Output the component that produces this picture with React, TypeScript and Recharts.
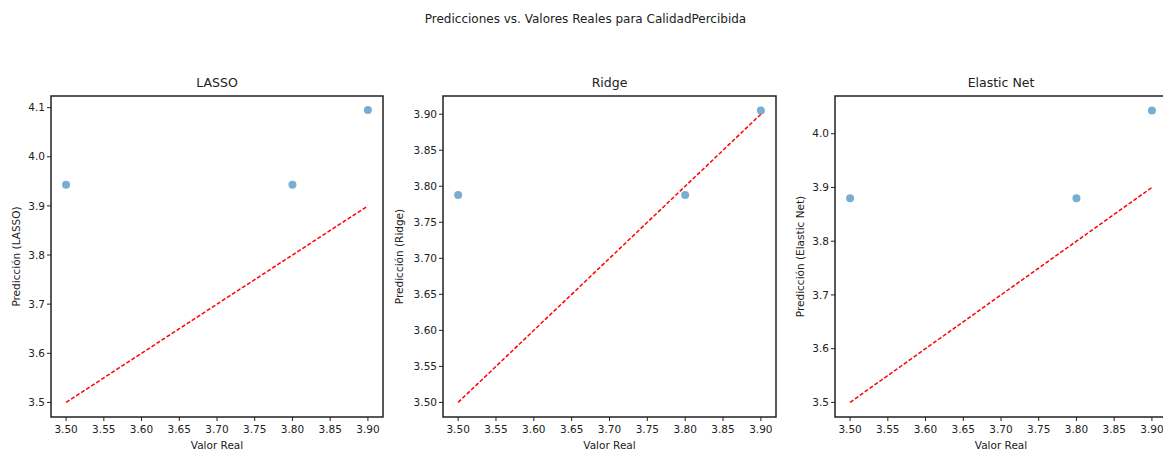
import {
  ComposedChart,
  Line,
  ReferenceArea,
  Scatter,
  XAxis,
  YAxis,
} from 'recharts'

// true values on the x axis, one prediction per model
const realValues = [3.5, 3.8, 3.9]
const lassoPred = [3.943, 3.943, 4.095]
const ridgePred = [3.788, 3.788, 3.905]
const elasticPred = [3.88, 3.88, 4.043]
// ideal y = x line
const idealLine = [3.5, 3.9]

const xTicks = [3.5, 3.55, 3.6, 3.65, 3.7, 3.75, 3.8, 3.85, 3.9]
const lassoYTicks = [3.5, 3.6, 3.7, 3.8, 3.9, 4.0, 4.1]
const ridgeYTicks = [3.5, 3.55, 3.6, 3.65, 3.7, 3.75, 3.8, 3.85, 3.9]
const elasticYTicks = [3.5, 3.6, 3.7, 3.8, 3.9, 4.0]

const FONT = 'DejaVu Sans'
const X_DOMAIN: [number, number] = [3.48, 3.92]
const PLOT_TOP = 96
const PLOT_BOTTOM = 417
const H = 459

interface PanelProps {
  title: string
  yLabel: string
  preds: number[]
  yDomain: [number, number]
  yTicks: number[]
  yDigits: number
  left: number
  width: number
  yAxisWidth: number
  rightMargin: number
  labelOffset: number
}

function Panel({
  title,
  yLabel,
  preds,
  yDomain,
  yTicks,
  yDigits,
  left,
  width,
  yAxisWidth,
  rightMargin,
  labelOffset,
}: PanelProps) {
  const points = realValues.map((x, i) => ({ x, y: preds[i] }))
  const line = idealLine.map((v) => ({ x: v, y: v }))
  const plotLeft = left + yAxisWidth
  const plotRight = left + width - rightMargin
  const center = (plotLeft + plotRight) / 2
  const tickStyle = { fontSize: 10.5, fill: '#222', fontFamily: FONT }

  return (
    <>
      <div style={{ position: 'absolute', left, top: 0 }}>
        <ComposedChart
          width={width}
          height={H}
          margin={{ top: PLOT_TOP, right: rightMargin, bottom: 0, left: 0 }}
        >
          <XAxis
            dataKey='x'
            type='number'
            domain={X_DOMAIN}
            ticks={xTicks}
            allowDataOverflow
            height={H - PLOT_BOTTOM}
            axisLine={false}
            tickSize={4}
            tickMargin={5}
            tick={tickStyle}
            tickLine={{ stroke: '#222' }}
            tickFormatter={(v: number) => v.toFixed(2)}
          />
          <YAxis
            type='number'
            domain={yDomain}
            ticks={yTicks}
            allowDataOverflow
            width={yAxisWidth}
            axisLine={false}
            tickSize={4}
            tickMargin={2}
            tick={tickStyle}
            tickLine={{ stroke: '#222' }}
            tickFormatter={(v: number) => v.toFixed(yDigits)}
            label={{
              content: ({ viewBox }: any) => {
                const cx = viewBox.x + labelOffset
                const cy = viewBox.y + viewBox.height / 2
                return (
                  <text
                    x={cx}
                    y={cy}
                    transform={`rotate(-90 ${cx} ${cy})`}
                    textAnchor='middle'
                    dominantBaseline='central'
                    fontSize={10.5}
                    fontFamily={FONT}
                    fill='#222'
                  >
                    {yLabel}
                  </text>
                )
              },
            }}
          />
          <ReferenceArea
            x1={X_DOMAIN[0]}
            x2={X_DOMAIN[1]}
            y1={yDomain[0]}
            y2={yDomain[1]}
            fill='none'
            stroke='#222'
            strokeWidth={1.5}
            ifOverflow='visible'
          />
          <Scatter
            data={points}
            dataKey='y'
            isAnimationActive={false}
            shape={(p: any) => (
              <circle cx={p.cx} cy={p.cy} r={4} fill='#1f77b4' fillOpacity={0.6} />
            )}
          />
          <Line
            data={line}
            dataKey='y'
            stroke='#ff0000'
            strokeWidth={1.5}
            strokeDasharray='4 2'
            dot={false}
            isAnimationActive={false}
          />
        </ComposedChart>
      </div>
      <div
        style={{
          position: 'absolute',
          left: center - 100,
          width: 200,
          top: 75,
          textAlign: 'center',
          fontSize: 12.5,
          color: '#222',
          fontFamily: FONT,
          lineHeight: '16px',
          zIndex: 2,
        }}
      >
        {title}
      </div>
      <div
        style={{
          position: 'absolute',
          left: center - 100,
          width: 200,
          top: 438,
          textAlign: 'center',
          fontSize: 10.5,
          color: '#222',
          fontFamily: FONT,
          lineHeight: '14px',
          zIndex: 2,
        }}
      >
        Valor Real
      </div>
    </>
  )
}

export default function App() {
  return (
    <div
      style={{
        position: 'relative',
        width: 1171,
        height: H,
        margin: -8,
        background: '#fff',
        overflow: 'hidden',
      }}
    >
      <div
        style={{
          position: 'absolute',
          left: 0,
          width: 1171,
          top: 11,
          textAlign: 'center',
          fontSize: 12,
          color: '#222',
          fontFamily: FONT,
          lineHeight: '16px',
        }}
      >
        Predicciones vs. Valores Reales para CalidadPercibida
      </div>
      <Panel
        title='LASSO'
        yLabel='Predicción (LASSO)'
        preds={lassoPred}
        yDomain={[3.4703, 4.1237]}
        yTicks={lassoYTicks}
        yDigits={1}
        left={0}
        width={386}
        yAxisWidth={51}
        rightMargin={3}
        labelOffset={16}
      />
      <Panel
        title='Ridge'
        yLabel='Predicción (Ridge)'
        preds={ridgePred}
        yDomain={[3.47975, 3.92525]}
        yTicks={ridgeYTicks}
        yDigits={2}
        left={386}
        width={399}
        yAxisWidth={57}
        rightMargin={9}
        labelOffset={13}
      />
      <Panel
        title='Elastic Net'
        yLabel='Predicción (Elastic Net)'
        preds={elasticPred}
        yDomain={[3.4728, 4.0702]}
        yTicks={elasticYTicks}
        yDigits={1}
        left={785}
        width={386}
        yAxisWidth={50}
        rightMargin={4}
        labelOffset={15}
      />
    </div>
  )
}
